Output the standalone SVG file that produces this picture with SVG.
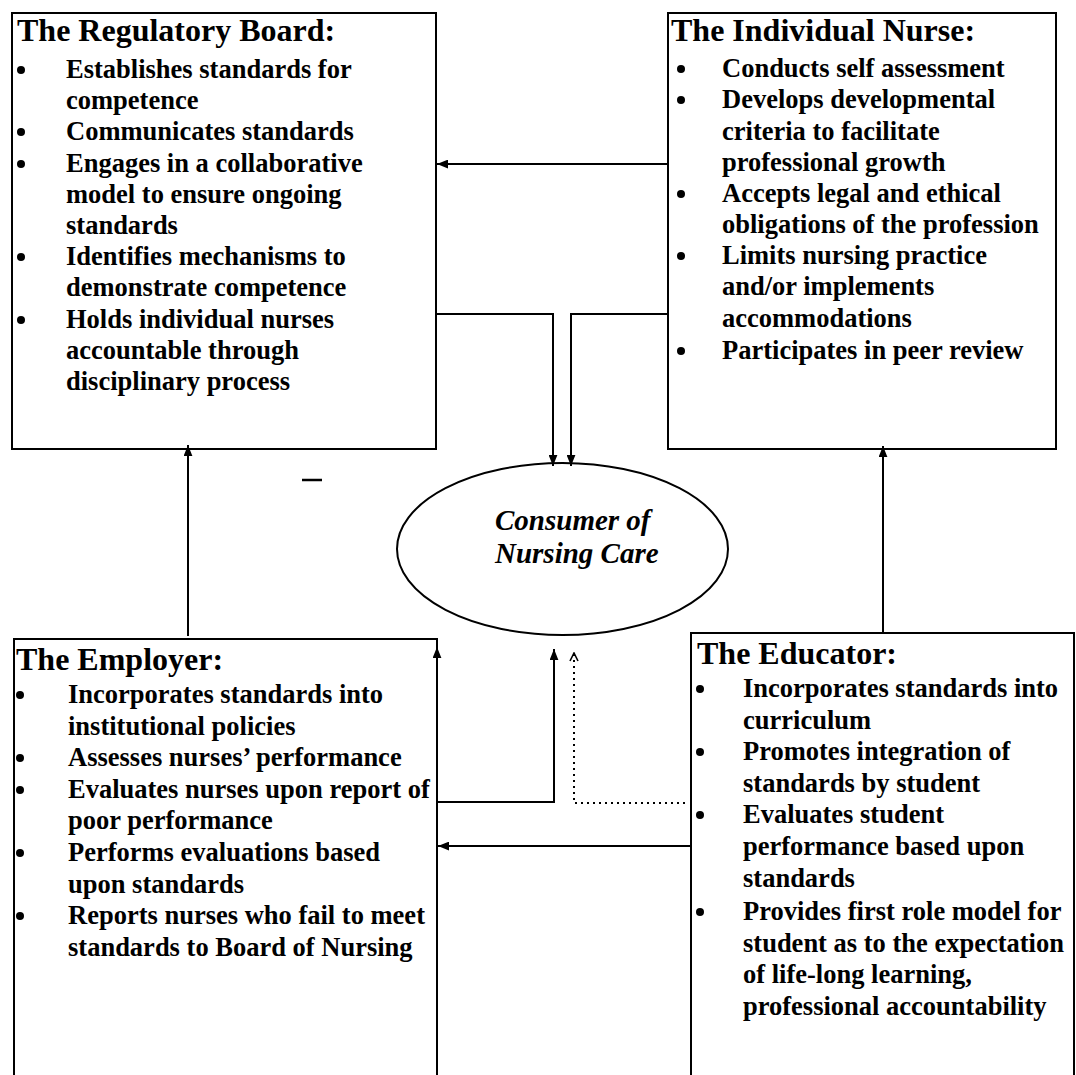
<svg xmlns="http://www.w3.org/2000/svg" width="1076" height="1075" viewBox="0 0 1076 1075">
  <style>
    .box { fill: #fff; stroke: #000; stroke-width: 2; }
    .ttl { font-family: "Liberation Serif", "Times New Roman", serif; font-weight: bold; font-size: 32px; fill: #000; }
    .itm { font-family: "Liberation Serif", "Times New Roman", serif; font-weight: bold; font-size: 26.5px; fill: #000; }
    .blt { fill: #000; }
    .cons { font-family: "Liberation Serif", "Times New Roman", serif; font-weight: bold; font-style: italic; font-size: 29px; fill: #000; }
    .wire { fill: none; stroke: #000; stroke-width: 2; }
    .dot { fill: none; stroke: #000; stroke-width: 2; stroke-dasharray: 2 4; }
  </style>
  <defs>
    <marker id="head" viewBox="0 0 10 8" refX="10" refY="4" markerWidth="11" markerHeight="9" markerUnits="userSpaceOnUse" orient="auto">
      <path d="M0,0 L10,4 L0,8 z" fill="#000"/>
    </marker>
    <marker id="chev" viewBox="0 0 10 10" refX="9" refY="5" markerWidth="10" markerHeight="10" markerUnits="userSpaceOnUse" orient="auto">
      <path d="M1,1 L9,5 L1,9" fill="none" stroke="#000" stroke-width="1.6"/>
    </marker>
  </defs>
  <rect width="1076" height="1075" fill="#fff"/>

  <!-- Regulatory board -->
  <g id="regulatory-board">
    <rect class="box" x="12" y="13" width="424" height="436"/>
    <text class="ttl" x="17" y="41">The Regulatory Board:</text>
    <circle class="blt" cx="21" cy="70" r="4"/>
    <text class="itm" x="66" y="78">Establishes standards for</text>
    <text class="itm" x="66" y="109">competence</text>
    <circle class="blt" cx="21" cy="132" r="4"/>
    <text class="itm" x="66" y="140">Communicates standards</text>
    <circle class="blt" cx="21" cy="164" r="4"/>
    <text class="itm" x="66" y="172">Engages in a collaborative</text>
    <text class="itm" x="66" y="203">model to ensure ongoing</text>
    <text class="itm" x="66" y="234">standards</text>
    <circle class="blt" cx="21" cy="257" r="4"/>
    <text class="itm" x="66" y="265">Identifies mechanisms to</text>
    <text class="itm" x="66" y="296">demonstrate competence</text>
    <circle class="blt" cx="21" cy="320" r="4"/>
    <text class="itm" x="66" y="328">Holds individual nurses</text>
    <text class="itm" x="66" y="359">accountable through</text>
    <text class="itm" x="66" y="390">disciplinary process</text>
  </g>

  <!-- Individual nurse -->
  <g id="individual-nurse">
    <rect class="box" x="668" y="13" width="388" height="436"/>
    <text class="ttl" x="671" y="41">The Individual Nurse:</text>
    <circle class="blt" cx="681" cy="69" r="4"/>
    <text class="itm" x="722" y="77">Conducts self assessment</text>
    <circle class="blt" cx="681" cy="100" r="4"/>
    <text class="itm" x="722" y="108">Develops developmental</text>
    <text class="itm" x="722" y="140">criteria to facilitate</text>
    <text class="itm" x="722" y="171">professional growth</text>
    <circle class="blt" cx="681" cy="194" r="4"/>
    <text class="itm" x="722" y="202">Accepts legal and ethical</text>
    <text class="itm" x="722" y="233">obligations of the profession</text>
    <circle class="blt" cx="681" cy="256" r="4"/>
    <text class="itm" x="722" y="264">Limits nursing practice</text>
    <text class="itm" x="722" y="295">and/or implements</text>
    <text class="itm" x="722" y="327">accommodations</text>
    <circle class="blt" cx="681" cy="351" r="4"/>
    <text class="itm" x="722" y="359">Participates in peer review</text>
  </g>

  <!-- Consumer of nursing care -->
  <g id="consumer">
    <ellipse cx="562.5" cy="549" rx="165.5" ry="86" fill="#fff" stroke="#000" stroke-width="2"/>
    <text class="cons" x="495" y="530">Consumer of</text>
    <text class="cons" x="495" y="563">Nursing Care</text>
  </g>

  <!-- Employer -->
  <g id="employer">
    <rect class="box" x="14" y="639" width="423" height="460"/>
    <text class="ttl" x="16" y="670">The Employer:</text>
    <circle class="blt" cx="20" cy="695" r="4"/>
    <text class="itm" x="68" y="703">Incorporates standards into</text>
    <text class="itm" x="68" y="735">institutional policies</text>
    <circle class="blt" cx="20" cy="758" r="4"/>
    <text class="itm" x="68" y="766">Assesses nurses’ performance</text>
    <circle class="blt" cx="20" cy="790" r="4"/>
    <text class="itm" x="68" y="798">Evaluates nurses upon report of</text>
    <text class="itm" x="68" y="829">poor performance</text>
    <circle class="blt" cx="20" cy="853" r="4"/>
    <text class="itm" x="68" y="861">Performs evaluations based</text>
    <text class="itm" x="68" y="893">upon standards</text>
    <circle class="blt" cx="20" cy="916" r="4"/>
    <text class="itm" x="68" y="924">Reports nurses who fail to meet</text>
    <text class="itm" x="68" y="956">standards to Board of Nursing</text>
  </g>

  <!-- Educator -->
  <g id="educator">
    <rect class="box" x="691" y="633" width="383" height="470"/>
    <text class="ttl" x="697" y="664">The Educator:</text>
    <circle class="blt" cx="700" cy="689" r="4"/>
    <text class="itm" x="743" y="697">Incorporates standards into</text>
    <text class="itm" x="743" y="729">curriculum</text>
    <circle class="blt" cx="700" cy="752" r="4"/>
    <text class="itm" x="743" y="760">Promotes integration of</text>
    <text class="itm" x="743" y="792">standards by student</text>
    <circle class="blt" cx="700" cy="815" r="4"/>
    <text class="itm" x="743" y="823">Evaluates student</text>
    <text class="itm" x="743" y="855">performance based upon</text>
    <text class="itm" x="743" y="887">standards</text>
    <circle class="blt" cx="700" cy="912" r="4"/>
    <text class="itm" x="743" y="920">Provides first role model for</text>
    <text class="itm" x="743" y="952">student as to the expectation</text>
    <text class="itm" x="743" y="983">of life-long learning,</text>
    <text class="itm" x="743" y="1015">professional accountability</text>
  </g>

  <!-- Connectors -->
  <g id="connectors">
    <path class="wire" d="M668,164 H437" marker-end="url(#head)"/>
    <path class="wire" d="M436,314 H553 V466" marker-end="url(#head)"/>
    <path class="wire" d="M668,314 H571 V466" marker-end="url(#head)"/>
    <path class="wire" d="M188,636 V445" marker-end="url(#head)"/>
    <path class="wire" d="M883,633 V446" marker-end="url(#head)"/>
    <path class="wire" d="M437,680 V647" marker-end="url(#head)"/>
    <path class="wire" d="M437,802 H554 V649" marker-end="url(#head)"/>
    <path class="dot" d="M685,803 H574 V653" marker-end="url(#chev)"/>
    <path class="wire" d="M691,846 H438" marker-end="url(#head)"/>
    <line x1="302" y1="480" x2="322" y2="480" stroke="#000" stroke-width="2.5"/>
  </g>
</svg>
